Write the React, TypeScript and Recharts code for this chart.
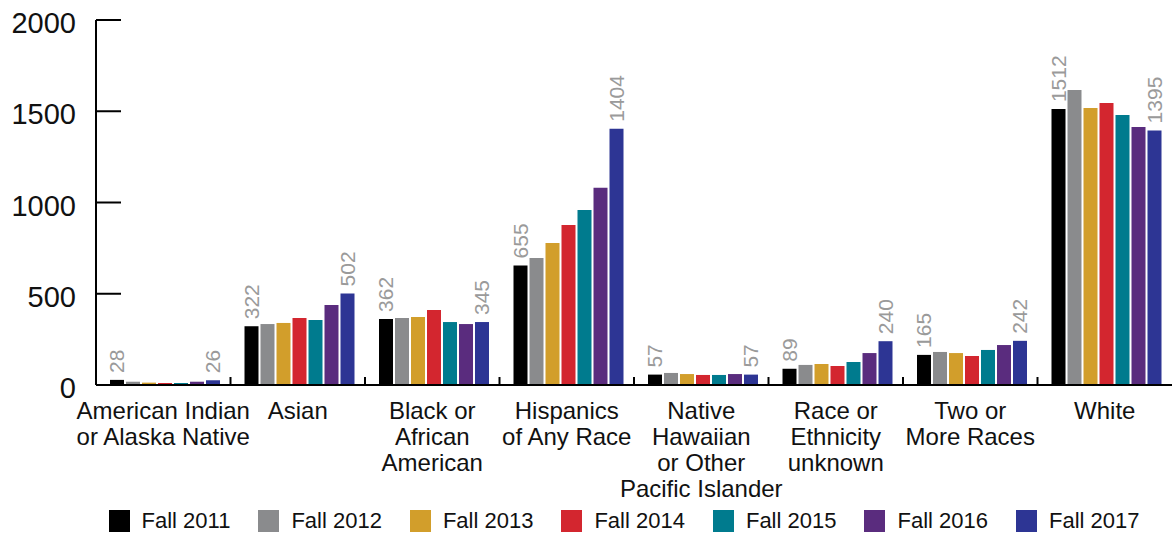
import { Bar, BarChart, LabelList, Legend, XAxis, YAxis } from "recharts";

const categories = [
  "American Indian|or Alaska Native",
  "Asian",
  "Black or|African|American",
  "Hispanics|of Any Race",
  "Native|Hawaiian|or Other|Pacific Islander",
  "Race or|Ethnicity|unknown",
  "Two or|More Races",
  "White",
];

const seriesNames = ["Fall 2011", "Fall 2012", "Fall 2013", "Fall 2014", "Fall 2015", "Fall 2016", "Fall 2017"];
const fall2011 = [28, 322, 362, 655, 57, 89, 165, 1512];
const fall2012 = [18, 334, 367, 696, 66, 110, 181, 1616];
const fall2013 = [13, 340, 373, 778, 60, 115, 175, 1518];
const fall2014 = [11, 367, 411, 877, 55, 104, 159, 1545];
const fall2015 = [11, 356, 345, 959, 55, 126, 192, 1479];
const fall2016 = [18, 438, 334, 1081, 60, 175, 219, 1414];
const fall2017 = [26, 502, 345, 1404, 57, 240, 242, 1395];
const yTicks = [0, 500, 1000, 1500, 2000];

const COLORS = ["#000000", "#8a8b8d", "#d29e2b", "#d3262f", "#007b8e", "#5a2c7e", "#2d3594"];
const seriesValues = [fall2011, fall2012, fall2013, fall2014, fall2015, fall2016, fall2017];
// labels only on first and last year
const labelled = [true, false, false, false, false, false, true];

const data = categories.map((c, i) => {
  const row: Record<string, string | number> = { category: c };
  seriesNames.forEach((s, j) => {
    row[s] = seriesValues[j][i];
  });
  return row;
});

const FONT = "'Liberation Sans', Arial, sans-serif";
const NARROW = "'Liberation Sans Narrow', 'Liberation Sans', sans-serif";

function YTick(props: any) {
  const { x, y, payload } = props;
  return (
    <g>
      <line x1={x + 20} x2={x + 45} y1={y} y2={y} stroke="#000" strokeWidth={2} />
      <text x={x} y={y + 3} textAnchor="end" dominantBaseline="central" fontFamily={FONT} fontSize={29} fill="#111">
        {payload.value}
      </text>
    </g>
  );
}

function XTick(props: any) {
  const { x, y, payload } = props;
  const lines = String(payload.value).split("|");
  const half = payload.offset ?? 0;
  return (
    <g>
      {payload.index > 0 && (
        <line x1={x - half} x2={x - half} y1={y} y2={y - 8} stroke="#000" strokeWidth={2} />
      )}
      <text textAnchor="middle" fontFamily={FONT} fontSize={24} fill="#111">
        {lines.map((l, i) => (
          <tspan key={i} x={x} y={y + 34 + i * 26}>
            {l}
          </tspan>
        ))}
      </text>
    </g>
  );
}

function ValueLabel(props: any) {
  const { x, y, width, value } = props;
  const cx = x + width / 2;
  const ty = y - 7;
  return (
    <text
      x={cx}
      y={ty}
      transform={`rotate(-90 ${cx} ${ty})`}
      textAnchor="start"
      dominantBaseline="central"
      fontFamily={NARROW}
      fontSize={21}
      fill="#9a9a9a"
    >
      {value}
    </text>
  );
}

function LegendBox() {
  return (
    <div
      style={{
        display: "flex",
        justifyContent: "center",
        alignItems: "center",
        gap: 28,
        marginLeft: 76,
        height: 30,
        fontFamily: FONT,
        fontSize: 22,
        color: "#111",
      }}
    >
      {seriesNames.map((s, i) => (
        <div key={s} style={{ display: "flex", alignItems: "center" }}>
          <span style={{ width: 21, height: 22, background: COLORS[i], marginRight: 12, display: "inline-block" }} />
          <span>{s}</span>
        </div>
      ))}
    </div>
  );
}

export default function App() {
  return (
    <div style={{ position: "absolute", left: 0, top: 0, background: "#fff" }}>
      <BarChart
        width={1172}
        height={536}
        data={data}
        margin={{ top: 20, right: 0, bottom: 0, left: 0 }}
        barCategoryGap={14}
        barGap={2}
      >
        <XAxis
          dataKey="category"
          tick={<XTick />}
          tickLine={false}
          tickSize={0}
          tickMargin={0}
          interval={0}
          height={121}
          axisLine={{ stroke: "#000", strokeWidth: 2 }}
        />
        <YAxis
          domain={[0, 2000]}
          ticks={yTicks}
          tick={<YTick />}
          tickLine={false}
          tickSize={0}
          tickMargin={20}
          width={96}
          axisLine={{ stroke: "#000", strokeWidth: 2 }}
        />
        <Legend verticalAlign="bottom" content={<LegendBox />} />
        {seriesNames.map((s, i) => (
          <Bar key={s} dataKey={s} fill={COLORS[i]} isAnimationActive={false}>
            {labelled[i] && <LabelList dataKey={s} content={<ValueLabel />} />}
          </Bar>
        ))}
      </BarChart>
    </div>
  );
}
